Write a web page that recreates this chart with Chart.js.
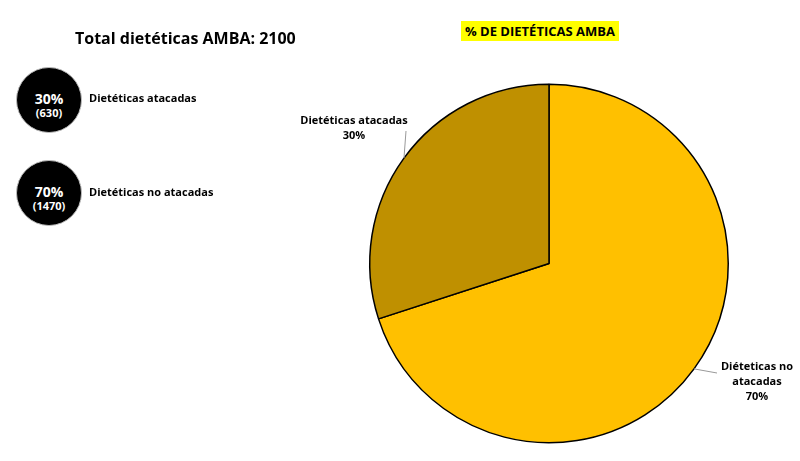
<!DOCTYPE html>
<html><head><meta charset="utf-8">
<script src="https://cdn.jsdelivr.net/npm/chart.js@4"></script>
<style>
body{margin:0;background:#fff;font-family:"Open Sans",sans-serif;}
#wrap{position:relative;width:800px;height:461px;}
canvas{position:absolute;left:0;top:0;}
.t{position:absolute;font-weight:bold;color:#000;white-space:nowrap;}
.c{position:absolute;width:66px;height:66px;border-radius:50%;background:#000;border:1px solid #bbb;color:#fff;text-align:center;font-weight:bold;box-sizing:border-box;}
.c .p{font-size:14px;line-height:15px;margin-top:23px;}
.c .n{font-size:11px;line-height:14px;}
</style></head><body>
<div id="wrap">
<canvas id="ch" width="800" height="461"></canvas>
<div class="t" style="left:75px;top:27px;font-size:16px;">Total dietéticas AMBA: 2100</div>
<div class="c" style="left:16px;top:67px;"><div class="p">30%</div><div class="n">(630)</div></div>
<div class="t" style="left:89px;top:90px;font-size:11px;">Dietéticas atacadas</div>
<div class="c" style="left:16px;top:160px;"><div class="p">70%</div><div class="n">(1470)</div></div>
<div class="t" style="left:89px;top:184px;font-size:11px;">Dietéticas no atacadas</div>
<div class="t" style="left:461px;top:21px;font-size:13px;background:#ffff00;padding:1px 4px;">% DE DIETÉTICAS AMBA</div>
</div>
<script>
const categories=["Diéteticas no atacadas","Dietéticas atacadas"];
const values=[70,30];
const labelLines=[["Diéteticas no","atacadas","70%"],["Dietéticas atacadas","30%"]];
const colors=["#FFC000","#BF9000"];
const labelPos=[[757,370],[354,124]];
const lbl={id:"lbl",afterDraw(c){
 const x=c.ctx;const meta=c.getDatasetMeta(0);
 x.save();x.font="bold 11px 'Open Sans',sans-serif";x.fillStyle="#000";x.textAlign="center";
 meta.data.forEach((a,i)=>{
  const p=labelPos[i];const L=labelLines[i];
  L.forEach((s,j)=>x.fillText(s,p[0],p[1]+j*15));
  const mid=(a.startAngle+a.endAngle)/2;
  const ex=a.x+Math.cos(mid)*a.outerRadius, ey=a.y+Math.sin(mid)*a.outerRadius;
  x.strokeStyle="#999";x.lineWidth=1;x.beginPath();
  if(i==0){x.moveTo(ex,ey);x.lineTo(p[0]-40,p[1]+3);}else{x.moveTo(ex,ey);x.lineTo(p[0]+52,p[1]+7);}
  x.stroke();
 });
 x.restore();}};
new Chart(document.getElementById("ch"),{type:"pie",
 data:{labels:categories,datasets:[{data:values,backgroundColor:colors,borderColor:"#000",borderWidth:1.5}]},
 options:{responsive:false,animation:false,layout:{padding:{left:369,right:71,top:83,bottom:17}},
  plugins:{legend:{display:false},tooltip:{enabled:false}}},plugins:[lbl]});
</script>
</body></html>
